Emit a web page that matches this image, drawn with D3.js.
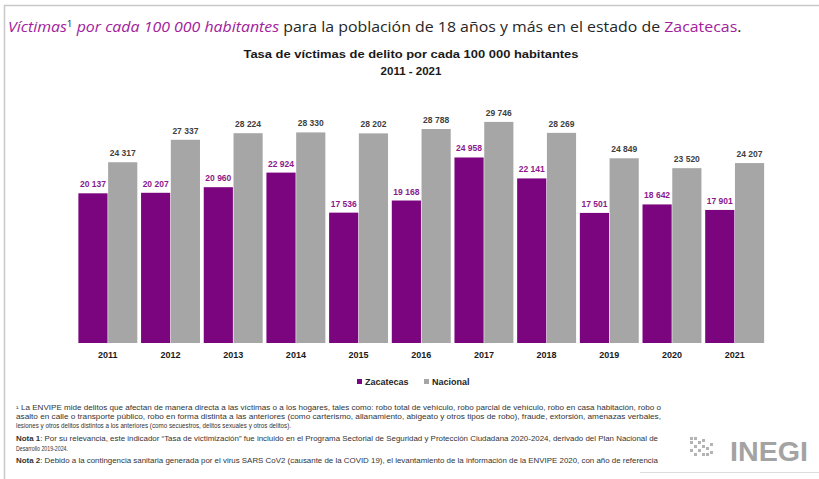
<!DOCTYPE html>
<html>
<head>
<meta charset="utf-8">
<script src="https://cdn.jsdelivr.net/npm/d3@7"></script>
<style>
  body { margin: 0; background: #fff; }
  svg { display: block; font-family: "Liberation Sans", Arial, sans-serif; }
</style>
</head>
<body>
<div id="chart"></div>
<script>
// data
var years = ["2011", "2012", "2013", "2014", "2015", "2016", "2017", "2018", "2019", "2020", "2021"];
var zacatecas = [20137, 20207, 20960, 22924, 17536, 19168, 24958, 22141, 17501, 18642, 17901];
var nacional = [24317, 27337, 28224, 28330, 28202, 28788, 29746, 28269, 24849, 23520, 24207];
var seriesNames = ["Zacatecas", "Nacional"];
var seriesColors = ["#7b057e", "#a6a6a6"];
var labelColors = ["#8a1a8c", "#3f3f3f"];

var footLines = [
  "\u00b9 La ENVIPE mide delitos que afectan de manera directa a las víctimas o a los hogares, tales como: robo total de vehículo, robo parcial de vehículo, robo en casa habitación, robo o",
  "asalto en calle o transporte público, robo en forma distinta a las anteriores (como carterismo, allanamiento, abigeato y otros tipos de robo), fraude, extorsión, amenazas verbales,",
  "lesiones y otros delitos distintos a los anteriores (como secuestros, delitos sexuales y otros delitos)."
];
var notas = [
  ["Nota 1", ": Por su relevancia, este indicador \u201cTasa de victimización\u201d fue incluido en el Programa Sectorial de Seguridad y Protección Ciudadana 2020-2024, derivado del Plan Nacional de"],
  ["", "Desarrollo 2019-2024."],
  ["Nota 2", ": Debido a la contingencia sanitaria generada por el virus SARS CoV2 (causante de la COVID 19), el levantamiento de la información de la ENVIPE 2020, con año de referencia"]
];

var width = 819, height = 479;
var fmt = d3.formatLocale({decimal: ".", thousands: " ", grouping: [3], currency: ["", ""]}).format(",d");

var svg = d3.select("#chart").append("svg")
    .attr("width", width)
    .attr("height", height);

// slide frame
svg.append("path")
    .attr("d", "M4.5,479 V5.5 H819")
    .attr("fill", "none")
    .attr("stroke", "#c8c8c8")
    .attr("stroke-width", 1.5);
svg.append("line")
    .attr("x1", 640).attr("x2", 819).attr("y1", 472.5).attr("y2", 472.5)
    .attr("stroke", "#dcdcdc");

// main heading
var head = svg.append("text")
    .attr("x", 8)
    .attr("y", 32)
    .attr("font-family", "'Open Sans', sans-serif")
    .attr("font-size", 14.5)
    .attr("fill", "#262626");
head.append("tspan").attr("fill", "#a0229d").attr("font-style", "italic").text("Víctimas");
head.append("tspan").attr("fill", "#262626").attr("font-size", 9).attr("dy", -5).text("1");
head.append("tspan").attr("fill", "#a0229d").attr("font-style", "italic").attr("dy", 5).text(" por cada 100 000 habitantes");
head.append("tspan").text(" para la población de 18 años y más en el estado de ");
head.append("tspan").attr("fill", "#a0229d").text("Zacatecas");
head.append("tspan").text(".");
var hw = head.node().getComputedTextLength();
head.attr("transform", "translate(8,0) scale(" + (734 / hw) + ",1) translate(-8,0)");

// chart title
svg.append("text")
    .attr("x", 411).attr("y", 58)
    .attr("text-anchor", "middle")
    .attr("font-weight", "bold")
    .attr("font-size", 11.5)
    .attr("fill", "#1a1a1a")
    .attr("textLength", 335)
    .attr("lengthAdjust", "spacingAndGlyphs")
    .text("Tasa de víctimas de delito por cada 100 000 habitantes");
svg.append("text")
    .attr("x", 411).attr("y", 75)
    .attr("text-anchor", "middle")
    .attr("font-weight", "bold")
    .attr("font-size", 11.5)
    .attr("fill", "#1a1a1a")
    .text("2011 - 2021");

// scales
var x0 = d3.scaleBand()
    .domain(years)
    .range([76.5, 766])
    .paddingInner(0.06)
    .paddingOuter(0.03);
var x1 = d3.scaleBand()
    .domain(seriesNames)
    .range([0, x0.bandwidth()])
    .paddingInner(0.02);
var y = d3.scaleLinear()
    .domain([0, 30000])
    .range([343, 120]);

var rows = years.map(function(yr, i) {
  return {year: yr, values: [zacatecas[i], nacional[i]]};
});

var groups = svg.selectAll(".grp")
    .data(rows)
    .enter().append("g")
    .attr("class", "grp")
    .attr("transform", function(d) { return "translate(" + x0(d.year) + ",0)"; });

var cells = groups.selectAll(".cell")
    .data(function(d) {
      return d.values.map(function(v, j) { return {name: seriesNames[j], value: v, j: j}; });
    })
    .enter();

cells.append("rect")
    .attr("x", function(d) { return x1(d.name); })
    .attr("width", x1.bandwidth())
    .attr("y", function(d) { return y(d.value); })
    .attr("height", function(d) { return y(0) - y(d.value); })
    .attr("fill", function(d) { return seriesColors[d.j]; });

cells.append("text")
    .attr("x", function(d) { return x1(d.name) + x1.bandwidth() / 2; })
    .attr("y", function(d) { return y(d.value) - 6; })
    .attr("text-anchor", "middle")
    .attr("font-size", 8.5)
    .attr("font-weight", "bold")
    .attr("fill", function(d) { return labelColors[d.j]; })
    .text(function(d) { return fmt(d.value); });

// x axis (labels only)
var xAxis = svg.append("g")
    .attr("transform", "translate(0," + y(0) + ")")
    .call(d3.axisBottom(x0).tickSize(0).tickPadding(9));
xAxis.select(".domain").remove();
xAxis.selectAll("text")
    .attr("font-family", "'Liberation Sans', Arial, sans-serif")
    .attr("font-size", 9)
    .attr("font-weight", "bold")
    .attr("fill", "#1a1a1a");

// legend
var legend = svg.append("g").attr("transform", "translate(357,385)");
var legX = [0, 67];
seriesNames.forEach(function(n, j) {
  var g = legend.append("g").attr("transform", "translate(" + legX[j] + ",0)");
  g.append("rect").attr("x", 0).attr("y", -6).attr("width", 5).attr("height", 5).attr("fill", seriesColors[j]);
  g.append("text").attr("x", 8).attr("y", 0)
      .attr("font-size", 9).attr("font-weight", "bold").attr("fill", "#262626")
      .text(n);
});

// footnotes
var fy = [410, 419, 428];
var fw = [645, 645, 275];
footLines.forEach(function(t, i) {
  svg.append("text")
      .attr("x", 16).attr("y", fy[i])
      .attr("font-size", 6.3)
      .attr("fill", "#333")
      .attr("textLength", fw[i])
      .attr("lengthAdjust", "spacingAndGlyphs")
      .text(t);
});
var ny = [441, 451, 463];
var nw = [642, 52, 642];
notas.forEach(function(n, i) {
  var t = svg.append("text")
      .attr("x", 16).attr("y", ny[i])
      .attr("font-size", 6.3)
      .attr("fill", "#333")
      .attr("textLength", nw[i])
      .attr("lengthAdjust", "spacingAndGlyphs");
  if (n[0]) t.append("tspan").attr("font-weight", "bold").text(n[0]);
  t.append("tspan").text(n[1]);
});

// INEGI logo
var logo = svg.append("g").attr("transform", "translate(690,437)");
var dots = [[0,0],[4,0],[0,4],[8,4],[12,2],[4,8],[12,8],[0,12],[8,12],[16,10],[4,16],[12,16],[16,16],[20,6],[20,14]];
logo.selectAll("rect").data(dots).enter().append("rect")
    .attr("x", function(d) { return d[0]; })
    .attr("y", function(d) { return d[1]; })
    .attr("width", 3).attr("height", 3)
    .attr("fill", "#b4b4b4");
svg.append("text")
    .attr("x", 730).attr("y", 461)
    .attr("font-size", 28)
    .attr("font-weight", "bold")
    .attr("fill", "#a3a3a3")
    .attr("textLength", 78)
    .attr("lengthAdjust", "spacingAndGlyphs")
    .text("INEGI");
</script>
</body>
</html>
